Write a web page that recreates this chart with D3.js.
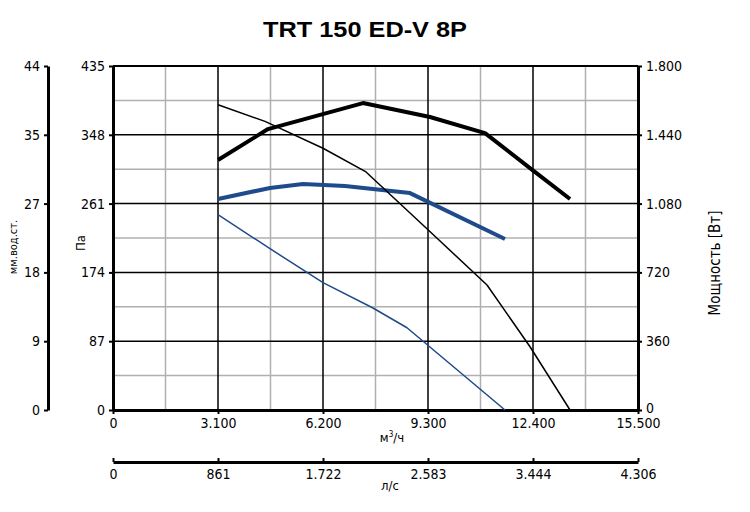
<!DOCTYPE html>
<html><head><meta charset="utf-8">
<script src="https://cdn.jsdelivr.net/npm/d3@7"></script>
<style>
body{margin:0;background:#fff;}
text{font-family:"Liberation Sans Narrow","DejaVu Sans Condensed","Liberation Sans",sans-serif;}
</style></head>
<body><svg id="c" width="750" height="512"></svg>
<script>
// ---- data ----
const flowTicks = [0, 3100, 6200, 9300, 12400, 15500];
const flowLabels = ["0", "3.100", "6.200", "9.300", "12.400", "15.500"];
const lsLabels = ["0", "861", "1.722", "2.583", "3.444", "4.306"];
const paTicks = [0, 87, 174, 261, 348, 435];
const mmLabels = ["0", "9", "18", "27", "35", "44"];
const powerTicks = [0, 360, 720, 1080, 1440, 1800];
const powerLabels = ["0", "360", "720", "1.080", "1.440", "1.800"];

// pressure curve, high speed (Pa)
const pHighX = [3100, 4488, 6200, 7470, 9300, 11042, 12312, 13493];
const pHighY = [386, 365, 331, 301, 228, 158, 80, 0];
// power curve, high speed (W)
const wHighX = [3100, 4576, 7381, 9359, 10983, 12311, 13493];
const wHighY = [1308, 1470, 1606, 1533, 1449, 1266, 1104];
// pressure curve, low speed (Pa)
const pLowX = [3100, 4635, 6200, 7676, 8680, 11573];
const pLowY = [247, 204, 161, 129, 104, 0];
// power curve, low speed (W)
const wLowX = [3100, 4635, 5610, 6850, 8769, 11573];
const wLowY = [1104, 1162, 1183, 1172, 1135, 895];

// ---- chart ----
const svg = d3.select("#c");
const L = 113, R = 638, T = 66, B = 410;
const x = d3.scaleLinear().domain([0, 15500]).range([L, R]);
const yPa = d3.scaleLinear().domain([0, 435]).range([B, T]);
const yW = d3.scaleLinear().domain([0, 1800]).range([B, T]);
const blue = "#1f4a8c";

// title
svg.append("text").attr("x", 263).attr("y", 37)
  .attr("textLength", 204).attr("lengthAdjust", "spacingAndGlyphs")
  .style("font-family", "'Liberation Sans',Arial,sans-serif").style("font-weight", "bold")
  .style("font-size", "22px").text("TRT 150 ED-V 8P");

// grid
const g = svg.append("g");
const minorX = d3.range(1550, 15500, 3100);
const minorY = d3.range(43.5, 435, 87);
g.selectAll(".mx").data(minorX).join("line")
  .attr("x1", d => x(d)).attr("x2", d => x(d)).attr("y1", T).attr("y2", B)
  .attr("stroke", "#b0b0b0").attr("stroke-width", 1.5);
g.selectAll(".my").data(minorY).join("line")
  .attr("y1", d => yPa(d)).attr("y2", d => yPa(d)).attr("x1", L).attr("x2", R)
  .attr("stroke", "#b0b0b0").attr("stroke-width", 1.5);
g.selectAll(".Mx").data(flowTicks.slice(1, -1)).join("line")
  .attr("x1", d => x(d)).attr("x2", d => x(d)).attr("y1", T).attr("y2", B)
  .attr("stroke", "#000").attr("stroke-width", 1.5);
g.selectAll(".My").data(paTicks.slice(1)).join("line")
  .attr("y1", d => yPa(d)).attr("y2", d => yPa(d)).attr("x1", L).attr("x2", R)
  .attr("stroke", "#000").attr("stroke-width", 1.5);

function styleAxis(sel, sw) {
  sel.select(".domain").attr("stroke", "#000").attr("stroke-width", sw);
  sel.selectAll(".tick line").attr("stroke", "#000").attr("stroke-width", 2);
  sel.selectAll(".tick text").style("font-size", "14px").attr("fill", "#000");
}

// bottom flow axis
const ax = svg.append("g").attr("transform", `translate(0,${B})`)
  .call(d3.axisBottom(x).tickValues(flowTicks).tickSize(4).tickSizeOuter(0)
    .tickFormat((d, i) => flowLabels[i]).tickPadding(4));
styleAxis(ax, 3);

// left Pa axis
const ay = svg.append("g").attr("transform", `translate(${L},0)`)
  .call(d3.axisLeft(yPa).tickValues(paTicks).tickSize(4).tickSizeOuter(0)
    .tickFormat(d => d).tickPadding(4));
styleAxis(ay, 3);

// right power axis
const ar = svg.append("g").attr("transform", `translate(${R},0)`)
  .call(d3.axisRight(yW).tickValues(powerTicks).tickSize(4).tickSizeOuter(0)
    .tickFormat((d, i) => powerLabels[i]).tickPadding(4));
styleAxis(ar, 3);
ar.selectAll(".tick text").filter((d, i) => i === 0).attr("dy", "0.2em");

// top frame
svg.append("line").attr("x1", L).attr("x2", R).attr("y1", T).attr("y2", T)
  .attr("stroke", "#000").attr("stroke-width", 2);

// left mm axis (same positions as Pa ticks)
const am = svg.append("g").attr("transform", `translate(48,0)`)
  .call(d3.axisLeft(yPa).tickValues(paTicks).tickSize(4).tickSizeOuter(0)
    .tickFormat((d, i) => mmLabels[i]).tickPadding(4));
styleAxis(am, 3);

// second bottom axis (l/s)
const al = svg.append("g").attr("transform", `translate(0,462)`)
  .call(d3.axisBottom(x).tickValues(flowTicks).tickSize(0).tickSizeOuter(0)
    .tickFormat((d, i) => lsLabels[i]).tickPadding(7));
styleAxis(al, 3);
al.selectAll(".tick").append("line").attr("y1", 0).attr("y2", -4)
  .attr("stroke", "#000").attr("stroke-width", 2);

// axis titles
svg.append("text").attr("transform", "translate(85,243) rotate(-90)")
  .attr("text-anchor", "middle").style("font-size", "13px").text("Па");
svg.append("text").attr("transform", "translate(17,247) rotate(-90)")
  .attr("text-anchor", "middle").style("font-size", "11px").text("мм.вод.ст.");
svg.append("text").attr("transform", "translate(720,263) rotate(-90)")
  .attr("text-anchor", "middle").style("font-size", "15px").text("Мощность [Вт]");
svg.append("text").attr("x", 392).attr("y", 442).attr("text-anchor", "middle")
  .style("font-size", "13px").html("м<tspan dy='-5' font-size='8px'>3</tspan><tspan dy='5'>/ч</tspan>");
svg.append("text").attr("x", 390).attr("y", 490).attr("text-anchor", "middle")
  .style("font-size", "13px").text("л/с");

// curves
const linePa = d3.line().x(d => x(d[0])).y(d => yPa(d[1]));
const lineW = d3.line().x(d => x(d[0])).y(d => yW(d[1]));
const zip = (a, b) => a.map((v, i) => [v, b[i]]);

svg.append("path").attr("d", lineW(zip(wHighX, wHighY)))
  .attr("fill", "none").attr("stroke", "#000").attr("stroke-width", 4).attr("stroke-linejoin", "round");
svg.append("path").attr("d", lineW(zip(wLowX, wLowY)))
  .attr("fill", "none").attr("stroke", blue).attr("stroke-width", 4).attr("stroke-linejoin", "round");
svg.append("path").attr("d", linePa(zip(pHighX, pHighY)))
  .attr("fill", "none").attr("stroke", "#000").attr("stroke-width", 1.5).attr("stroke-linejoin", "round");
svg.append("path").attr("d", linePa(zip(pLowX, pLowY)))
  .attr("fill", "none").attr("stroke", blue).attr("stroke-width", 1.5).attr("stroke-linejoin", "round");
</script></body></html>
